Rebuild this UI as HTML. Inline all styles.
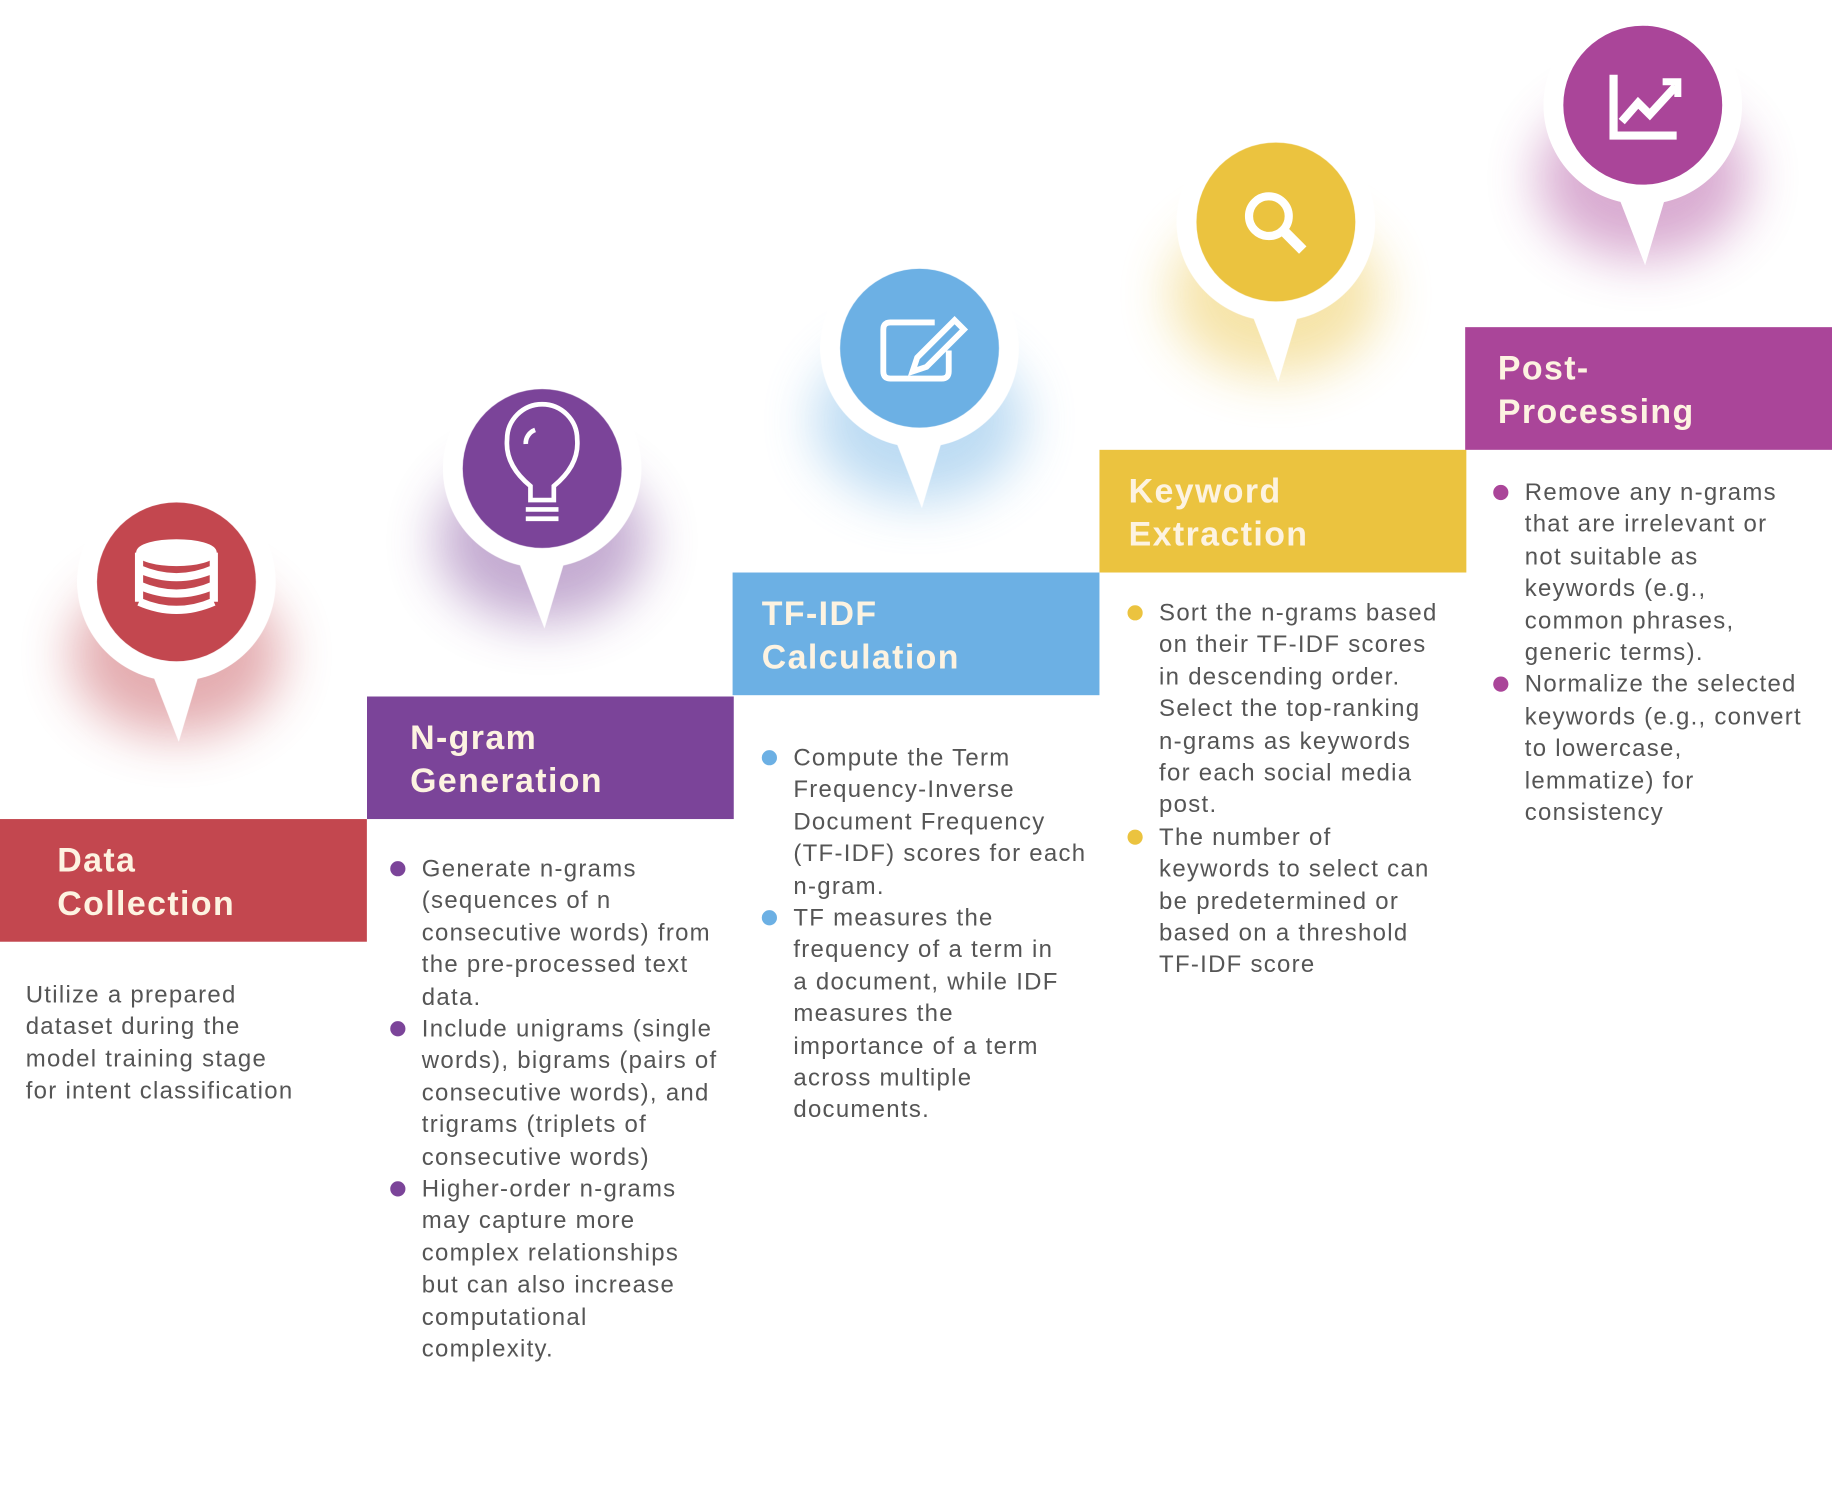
<!DOCTYPE html>
<html><head><meta charset="utf-8"><style>
html,body{margin:0;padding:0;background:#fff;width:1832px;height:1500px;overflow:hidden}
#w{position:absolute;left:0;top:0;width:1568px;height:1284px;transform:scale(1.1684);transform-origin:0 0;font-family:"Liberation Sans",sans-serif}
.h{position:absolute;height:105px;color:#fdf3e1;font-weight:bold;font-size:29px;letter-spacing:1.2px;line-height:37px;box-sizing:border-box;padding-top:18px}
.t{position:absolute;color:#555;font-size:20.5px;line-height:27.4px;letter-spacing:1.1px;white-space:nowrap}
.t ul{margin:0;padding:0;list-style:none}
.t li{position:relative}
.t li:before{content:"";position:absolute;left:-27px;top:7px;width:13px;height:13px;border-radius:50%;background:var(--c)}
svg{position:absolute;left:0;top:0}
</style></head><body><div id="w">
<svg width="1568" height="1284" viewBox="0 0 1568 1284">
<defs>
<filter id="g" x="-100%" y="-100%" width="300%" height="300%"><feGaussianBlur stdDeviation="22"/></filter>
<g id="pin"><circle r="85" fill="#fff"/><path d="M-24,70 L2,137 L22,70 Z" fill="#fff"/></g>
</defs>
<g opacity="0.45">
<ellipse cx="151" cy="560" rx="90" ry="70" fill="#c3474f" filter="url(#g)"/>
<ellipse cx="464" cy="463" rx="90" ry="70" fill="#7b4499" filter="url(#g)"/>
<ellipse cx="787" cy="360" rx="90" ry="70" fill="#6cb0e4" filter="url(#g)"/>
<ellipse cx="1092" cy="252" rx="90" ry="70" fill="#ebc33f" filter="url(#g)"/>
<ellipse cx="1406" cy="152" rx="90" ry="70" fill="#aa4599" filter="url(#g)"/>
</g>
<use href="#pin" x="151" y="498"/><circle cx="151" cy="498" r="68" fill="#c3474f"/>
<use href="#pin" x="464" y="401"/><circle cx="464" cy="401" r="68" fill="#7b4499"/>
<use href="#pin" x="787" y="298"/><circle cx="787" cy="298" r="68" fill="#6cb0e4"/>
<use href="#pin" x="1092" y="190"/><circle cx="1092" cy="190" r="68" fill="#ebc33f"/>
<use href="#pin" x="1406" y="90"/><circle cx="1406" cy="90" r="68" fill="#aa4599"/>
<g fill="none" stroke="#fff" stroke-width="5">
<ellipse cx="151" cy="473" rx="32" ry="9" fill="#fff"/>
<path d="M119,487 q32,14 64,0 M119,501 q32,14 64,0 M119,515 q32,14 64,0 M119,473 v42 M183,473 v42" stroke-width="7"/>
<path d="M454,428 v-12 q-22,-18 -20,-40 a30,30 0 0 1 60,0 q2,22 -20,40 v12 z" stroke-width="4"/>
<path d="M450,436 h28 M450,444 h28" stroke-width="4"/>
<path d="M450,380 a12,12 0 0 1 8,-12" stroke-width="4"/>
<path d="M800,276 h-38 q-6,0 -6,6 v36 q0,6 6,6 h44 q6,0 6,-6 v-18" stroke-width="5"/>
<path d="M785,306 l32,-32 l8,8 l-32,32 l-12,4 z" stroke-width="5"/>
<circle cx="1086" cy="185" r="17" stroke-width="7"/>
<path d="M1099,198 l16,16" stroke-width="9"/>
<path d="M1381,64 v52 h54" stroke-width="7"/>
<path d="M1388,104 l14,-16 l10,10 l22,-24" stroke-width="7"/>
<path d="M1423,70 h13 v13" stroke-width="6"/>
</g>
</svg>
<div class="h" style="left:0;top:701px;width:314px;background:#c3474f;padding-left:49px">Data<br>Collection</div>
<div class="h" style="left:314px;top:596px;width:314px;background:#7b4499;padding-left:37px">N-gram<br>Generation</div>
<div class="h" style="left:627px;top:490px;width:314px;background:#6cb0e4;padding-left:25px">TF-IDF<br>Calculation</div>
<div class="h" style="left:941px;top:385px;width:314px;background:#ebc33f;padding-left:25px">Keyword<br>Extraction</div>
<div class="h" style="left:1254px;top:280px;width:314px;background:#aa4599;padding-left:28px">Post-<br>Processing</div>

<div class="t" style="left:22px;top:838px">Utilize a prepared<br>dataset during the<br>model training stage<br>for intent classification</div>
<div class="t" style="left:361px;top:730px;--c:#7b4499"><ul>
<li>Generate n-grams<br>(sequences of n<br>consecutive words) from<br>the pre-processed text<br>data.</li>
<li>Include unigrams (single<br>words), bigrams (pairs of<br>consecutive words), and<br>trigrams (triplets of<br>consecutive words)</li>
<li>Higher-order n-grams<br>may capture more<br>complex relationships<br>but can also increase<br>computational<br>complexity.</li></ul></div>
<div class="t" style="left:679px;top:635px;--c:#6cb0e4"><ul>
<li>Compute the Term<br>Frequency-Inverse<br>Document Frequency<br>(TF-IDF) scores for each<br>n-gram.</li>
<li>TF measures the<br>frequency of a term in<br>a document, while IDF<br>measures the<br>importance of a term<br>across multiple<br>documents.</li></ul></div>
<div class="t" style="left:992px;top:511px;--c:#ebc33f"><ul>
<li>Sort the n-grams based<br>on their TF-IDF scores<br>in descending order.<br>Select the top-ranking<br>n-grams as keywords<br>for each social media<br>post.</li>
<li>The number of<br>keywords to select can<br>be predetermined or<br>based on a threshold<br>TF-IDF score</li></ul></div>
<div class="t" style="left:1305px;top:408px;--c:#aa4599"><ul>
<li>Remove any n-grams<br>that are irrelevant or<br>not suitable as<br>keywords (e.g.,<br>common phrases,<br>generic terms).</li>
<li>Normalize the selected<br>keywords (e.g., convert<br>to lowercase,<br>lemmatize) for<br>consistency</li></ul></div>
</div></body></html>
